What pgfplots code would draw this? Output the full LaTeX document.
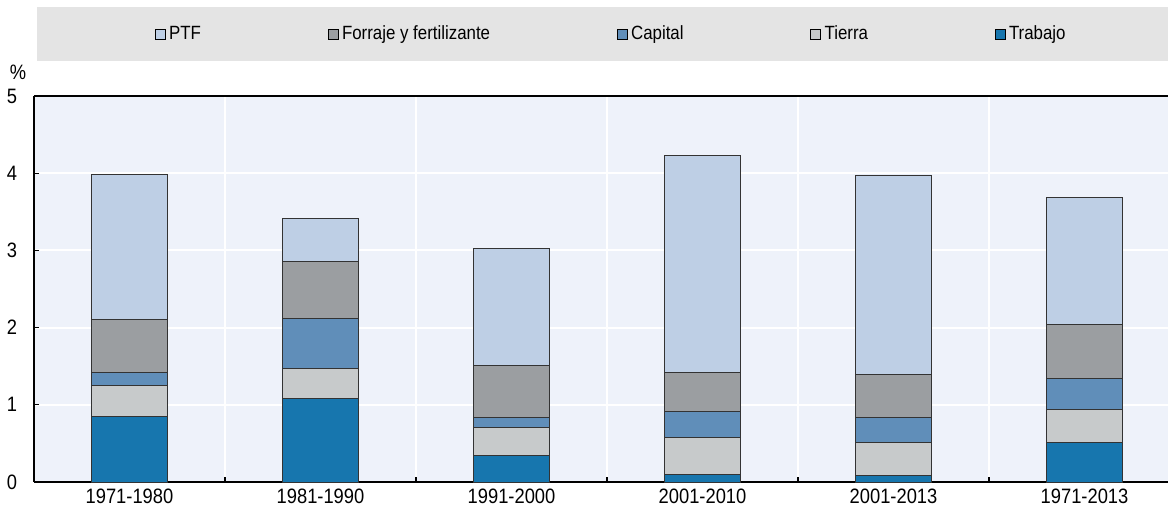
\documentclass[border=0pt]{standalone}
\usepackage{fontspec}
\setmainfont{Liberation Sans}[FakeStretch=0.88]
\usepackage{pgfplots}
\pgfplotsset{compat=1.18}
\definecolor{cTrab}{RGB}{23,118,174}
\definecolor{cTier}{RGB}{199,202,203}
\definecolor{cCap}{RGB}{96,142,185}
\definecolor{cForr}{RGB}{155,158,161}
\definecolor{cPTF}{RGB}{190,207,229}
\definecolor{cBg}{RGB}{238,242,250}
\definecolor{cLeg}{RGB}{228,228,228}
\begin{document}
\begin{tikzpicture}
\useasboundingbox (-20.4pt,-14.4pt) rectangle (680.4pt,289.2pt);
\fill[cLeg] (1.8pt,252.6pt) rectangle (680.4pt,285pt);
\begin{axis}[
  scale only axis, width=680.4pt, height=231.6pt,
  ybar stacked, bar width=0.4,
  xmin=-0.5, xmax=5.437, ymin=0, ymax=5,
  axis background/.style={fill=cBg},
  axis x line=box, axis y line=left,
  axis line style={-, black, line width=1pt},
  xtick pos=bottom, ytick pos=left,
  tick align=inside, major tick length=3pt,
  tick style={black, line width=0.8pt},
  xtick={0.5,1.5,2.5,3.5,4.5}, xticklabels={},
  extra x ticks={0,1,2,3,4,5},
  extra x tick labels={1971-1980,1981-1990,1991-2000,2001-2010,2001-2013,1971-2013},
  extra x tick style={major tick length=0pt, grid=none},
  ytick={0,1,2,3,4,5},
  xmajorgrids, ymajorgrids,
  grid style={white, line width=1.2pt},
  /pgf/number format/assume math mode=true,
  tick label style={font=\fontsize{12.5}{14}\selectfont},
  xticklabel style={inner sep=0pt, anchor=north, yshift=-4pt},
  yticklabel style={inner sep=0pt, anchor=east, xshift=-10pt},
  legend columns=5, reverse legend,
  legend style={at={(0.5096,1.1606)}, anchor=center, fill=none, draw=none,
    font=\fontsize{11.5}{13}\selectfont,
    /tikz/every even column/.append style={column sep=74pt},
    /tikz/every odd column/.append style={column sep=0pt}},
  legsq/.style={legend image code/.code={\draw[##1,draw=black,line width=0.6pt] (0pt,-3pt) rectangle (6pt,3pt);}},
  every axis plot/.append style={draw=black!80, line width=0.5pt},
  clip=false,
]
\addplot[fill=cTrab, legsq] coordinates {(0,0.844) (1,1.087) (2,0.349) (3,0.092) (4,0.087) (5,0.518)};
\addplot[fill=cTier, legsq] coordinates {(0,0.407) (1,0.378) (2,0.352) (3,0.482) (4,0.431) (5,0.417)};
\addplot[fill=cCap, legsq] coordinates {(0,0.170) (1,0.655) (2,0.139) (3,0.344) (4,0.317) (5,0.407)};
\addplot[fill=cForr, legsq] coordinates {(0,0.686) (1,0.742) (2,0.672) (3,0.499) (4,0.554) (5,0.696)};
\addplot[fill=cPTF, legsq] coordinates {(0,1.879) (1,0.551) (2,1.515) (3,2.816) (4,2.588) (5,1.652)};
\legend{Trabajo,Tierra,Capital,Forraje y fertilizante,PTF}
\node[font=\fontsize{12.5}{14}\selectfont] at (axis description cs:-0.0141,1.062) {\%};
\end{axis}
\end{tikzpicture}
\end{document}
